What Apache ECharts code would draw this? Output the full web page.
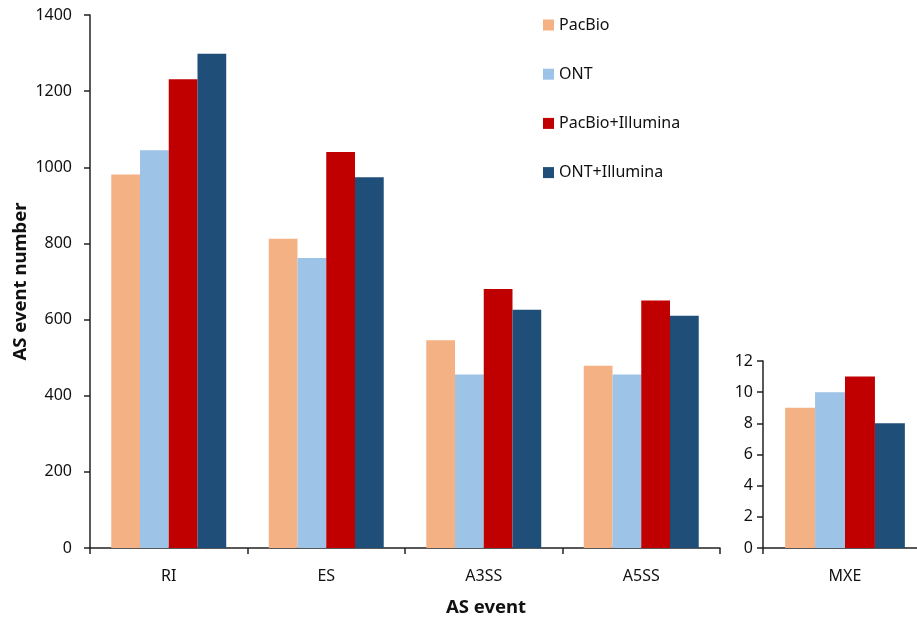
<!DOCTYPE html>
<html>
<head>
<meta charset="utf-8">
<script src="https://cdn.jsdelivr.net/npm/echarts@6/dist/echarts.min.js"></script>
<style>html,body{margin:0;padding:0;background:#fff}#c{width:917px;height:619px}</style>
</head>
<body>
<div id="c"></div>
<script>
const categories = ['RI', 'ES', 'A3SS', 'A5SS'];
const insetCategories = ['MXE'];
const seriesNames = ['PacBio', 'ONT', 'PacBio+Illumina', 'ONT+Illumina'];
const pacbio = [981, 812, 546, 479];
const ont = [1045, 762, 456, 456];
const pacbioIllumina = [1231, 1040, 680, 650];
const ontIllumina = [1298, 974, 626, 610];
const mxePacbio = [9];
const mxeOnt = [10];
const mxePacbioIllumina = [11];
const mxeOntIllumina = [8];
const mainTicks = [0, 200, 400, 600, 800, 1000, 1200, 1400];
const insetTicks = [0, 2, 4, 6, 8, 10, 12];

const colors = ['#F4B183', '#9DC3E6', '#C00000', '#1F4E79'];
const font = 'Noto Sans';
const chart = echarts.init(document.getElementById('c'));

const mainData = [pacbio, ont, pacbioIllumina, ontIllumina];
const insetData = [mxePacbio, mxeOnt, mxePacbioIllumina, mxeOntIllumina];

const series = [];
seriesNames.forEach((n, i) => {
  series.push({ name: n, type: 'bar', xAxisIndex: 0, yAxisIndex: 0, data: mainData[i],
    itemStyle: { color: colors[i] }, barGap: '0%', barCategoryGap: '27%' });
});
seriesNames.forEach((n, i) => {
  series.push({ name: n, type: 'bar', xAxisIndex: 1, yAxisIndex: 1, data: insetData[i],
    itemStyle: { color: colors[i] }, barGap: '0%', barCategoryGap: '27%' });
});

const axisLine = { show: true, lineStyle: { color: '#222', width: 1.5 } };
const axisTick = { show: true, inside: false, length: 6, lineStyle: { color: '#222', width: 1.5 } };

chart.setOption({
  animation: false,
  textStyle: { fontFamily: font },
  legend: {
    orient: 'vertical', left: 538, top: 12, itemGap: 33.2,
    itemWidth: 11, itemHeight: 11, icon: 'rect',
    textStyle: { fontFamily: font, fontSize: 16, color: '#111' },
    data: seriesNames
  },
  grid: [
    { left: 90, top: 15, width: 630, height: 533, containLabel: false, outerBoundsMode: 'none' },
    { left: 763, top: 361, width: 164, height: 187, containLabel: false, outerBoundsMode: 'none' }
  ],
  xAxis: [
    { type: 'category', gridIndex: 0, data: categories, axisLine, axisTick,
      axisLabel: { fontFamily: font, fontSize: 16, color: '#111', margin: 20 },
      name: 'AS event', nameLocation: 'middle', nameGap: 50, nameMoveOverlap: false,
      nameTextStyle: { fontFamily: font, fontSize: 18.5, fontWeight: 'bold', color: '#111',
        padding: [0, 0, 0, 162] } },
    { type: 'category', gridIndex: 1, data: insetCategories, axisLine, axisTick,
      axisLabel: { fontFamily: font, fontSize: 16, color: '#111', margin: 20 } }
  ],
  yAxis: [
    { type: 'value', gridIndex: 0, min: 0, max: 1400, interval: 200, axisLine, axisTick,
      splitLine: { show: false },
      axisLabel: { fontFamily: font, fontSize: 16, color: '#111', margin: 18,
        formatter: v => mainTicks.includes(v) ? String(v) : '' },
      name: 'AS event number', nameLocation: 'middle', nameGap: 60, nameRotate: 90,
      nameMoveOverlap: false,
      nameTextStyle: { fontFamily: font, fontSize: 18.5, fontWeight: 'bold', color: '#111' } },
    { type: 'value', gridIndex: 1, min: 0, max: 12, interval: 2, axisLine, axisTick,
      splitLine: { show: false },
      axisLabel: { fontFamily: font, fontSize: 16, color: '#111', margin: 10,
        formatter: v => insetTicks.includes(v) ? String(v) : '' } }
  ],
  series
});
</script>
</body>
</html>
